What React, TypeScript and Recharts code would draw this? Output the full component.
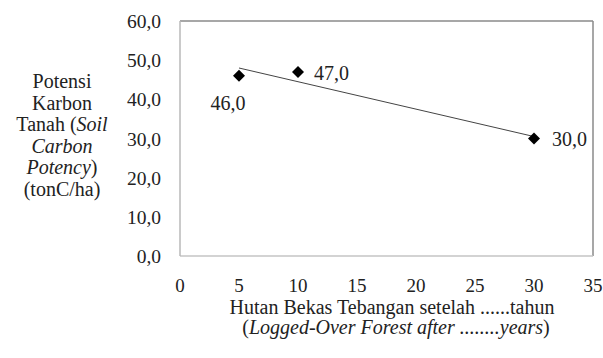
import React from "react";
import {
  ScatterChart,
  Scatter,
  XAxis,
  YAxis,
  ReferenceLine,
  LabelList,
  Customized,
} from "recharts";

// Observed points (years after logging, soil carbon potency tonC/ha)
const years = [5, 10, 30];
const carbon = [46.0, 47.0, 30.0];

// Linear trendline endpoints
const trendYears = [5, 30];
const trendCarbon = [48.0, 30.5];

const xTicks = [0, 5, 10, 15, 20, 25, 30, 35];
const yTicks = [0, 10, 20, 30, 40, 50, 60];

const yTitleLines = [
  { parts: [{ t: "Potensi", i: false }] },
  { parts: [{ t: "Karbon", i: false }] },
  { parts: [{ t: "Tanah (", i: false }, { t: "Soil", i: true }] },
  { parts: [{ t: "Carbon", i: true }] },
  { parts: [{ t: "Potency", i: true }, { t: ")", i: false }] },
  { parts: [{ t: "(tonC/ha)", i: false }] },
];
const xTitle1 = "Hutan Bekas Tebangan setelah ......tahun";
const xTitle2Italic = "Logged-Over Forest after ........years";

const points = years.map((x, i) => ({ x, y: carbon[i] }));
const trend = trendYears.map((x, i) => ({ x, y: trendCarbon[i] }));

const FONT = "Liberation Serif";
const TXT = "#222";
const fmt = (v: number) => v.toFixed(1).replace(".", ",");
const st = (italic = false, size = 20): React.CSSProperties => ({
  fontFamily: FONT,
  fontSize: size,
  fontStyle: italic ? "italic" : "normal",
  fill: TXT,
});

// label placement per point (layout only)
const labelPlace = [
  { dx: -11, dy: 34, anchor: "middle" },
  { dx: 16, dy: 8, anchor: "start" },
  { dx: 18, dy: 7, anchor: "start" },
];

const Diamond = (props: any) => {
  const { cx, cy } = props;
  if (cx == null || cy == null) return null;
  const r = 6;
  return (
    <polygon
      points={`${cx},${cy - r} ${cx + r},${cy} ${cx},${cy + r} ${cx - r},${cy}`}
      fill="#000"
    />
  );
};

const renderLabel = (props: any) => {
  const { x, y, width, height, value, index } = props;
  const cx = x + (width || 0) / 2;
  const cy = y + (height || 0) / 2;
  const p = labelPlace[index] || labelPlace[0];
  return (
    <text x={cx + p.dx} y={cy + p.dy} textAnchor={p.anchor as any} style={st()}>
      {fmt(value)}
    </text>
  );
};

const XTick = (props: any) => {
  const { x, y, payload } = props;
  return (
    <text x={x} y={y + 13} textAnchor="middle" style={st(false, 19)}>
      {String(payload.value)}
    </text>
  );
};

const YTick = (props: any) => {
  const { x, y, payload } = props;
  return (
    <text x={x} y={y + 7} textAnchor="end" style={st(false, 19.5)}>
      {fmt(payload.value)}
    </text>
  );
};

const Titles = () => (
  <g>
    {yTitleLines.map((ln, i) => (
      <text key={i} x={62} y={88 + i * 21.5} textAnchor="middle" style={st()}>
        {ln.parts.map((p, j) => (
          <tspan key={j} style={st(p.i)}>
            {p.t}
          </tspan>
        ))}
      </text>
    ))}
    <text x={392} y={314} textAnchor="middle" style={st()}>
      {xTitle1}
    </text>
    <text x={396} y={334} textAnchor="middle" style={st()}>
      <tspan style={st()}>(</tspan>
      <tspan style={st(true)}>{xTitle2Italic}</tspan>
      <tspan style={st()}>)</tspan>
    </text>
  </g>
);

export default function App() {
  return (
    <div style={{ position: "absolute", left: 0, top: 0, background: "#fff" }}>
      <ScatterChart
        width={603}
        height={358}
        margin={{ top: 21, right: 10, bottom: 0, left: 0 }}
      >
        <XAxis
          type="number"
          dataKey="x"
          domain={[0, 35]}
          ticks={xTicks}
          interval={0}
          height={102}
          axisLine={{ stroke: "#c4c4c4", strokeWidth: 1.5 }}
          tickLine={false}
          tickSize={0}
          tickMargin={23}
          tick={<XTick />}
          allowDataOverflow
        />
        <YAxis
          type="number"
          dataKey="y"
          domain={[0, 60]}
          ticks={yTicks}
          interval={0}
          width={180}
          axisLine={{ stroke: "#b8b8b8", strokeWidth: 1.5 }}
          tickLine={false}
          tickSize={0}
          tickMargin={19}
          tick={<YTick />}
          allowDataOverflow
        />
        <ReferenceLine y={60} stroke="#8a8a8a" strokeWidth={1.5} ifOverflow="visible" />
        <ReferenceLine x={35} stroke="#8a8a8a" strokeWidth={1.5} ifOverflow="visible" />
        <Scatter
          data={trend}
          line={{ stroke: "#444", strokeWidth: 1 }}
          shape={() => null}
          isAnimationActive={false}
        />
        <Scatter data={points} shape={Diamond} isAnimationActive={false}>
          <LabelList dataKey="y" content={renderLabel} />
        </Scatter>
        <Customized component={Titles} />
      </ScatterChart>
    </div>
  );
}
